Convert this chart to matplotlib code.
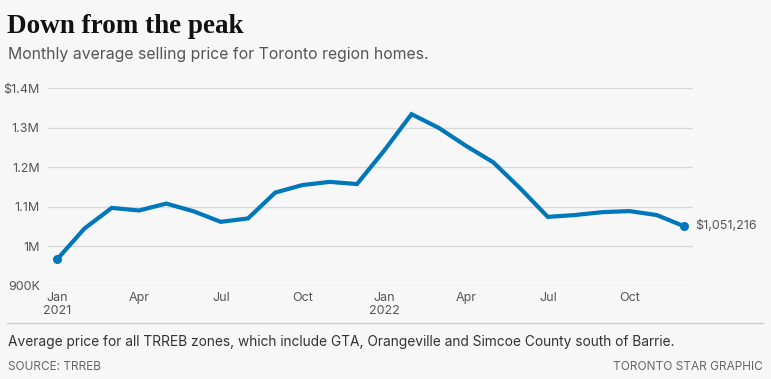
import matplotlib
matplotlib.use('Agg')
import matplotlib.pyplot as plt

plt.rcParams['font.family'] = ['Inter', 'DejaVu Sans']

# Monthly average selling price, Jan 2021 - Dec 2022
months = ['Jan\n2021', 'Feb', 'Mar', 'Apr', 'May', 'Jun', 'Jul', 'Aug', 'Sep', 'Oct', 'Nov', 'Dec',
          'Jan\n2022', 'Feb', 'Mar', 'Apr', 'May', 'Jun', 'Jul', 'Aug', 'Sep', 'Oct', 'Nov', 'Dec']
prices = [967885, 1045488, 1097565, 1090992, 1108453, 1088991, 1062256, 1070911, 1136280, 1155345,
          1163323, 1157837, 1242793, 1334544, 1299894, 1254436, 1212806, 1146254, 1074754, 1079500,
          1086762, 1089428, 1079395, 1051216]
y_ticks = [900000, 1000000, 1100000, 1200000, 1300000, 1400000]
y_labels = ['900K', '1M', '1.1M', '1.2M', '1.3M', '$1.4M']
x_ticks = [0, 3, 6, 9, 12, 15, 18, 21]

bg = '#f7f7f7'
blue = '#0077bb'

fig = plt.figure(figsize=(7.71, 3.79), dpi=100, facecolor=bg)
ax = fig.add_axes([48 / 771, 1 - 286 / 379, 645 / 771, (286 - 88.3) / 379])
ax.set_facecolor(bg)

x = list(range(len(prices)))
ax.plot(x, prices, color=blue, lw=3, solid_joinstyle='miter', solid_capstyle='butt', zorder=3)
ax.plot([x[0], x[-1]], [prices[0], prices[-1]], 'o', color=blue, ms=5.5, zorder=4)
ax.text(x[-1] + 0.4, prices[-1], f'${prices[-1]:,}', va='center', ha='left',
        fontsize=9, color='#555555')

ax.set_xlim(-0.34, 23.33)
ax.set_ylim(900000, 1400000)
ax.set_yticks(y_ticks)
ax.set_yticklabels(y_labels)
ax.set_xticks(x_ticks)
ax.set_xticklabels([months[i] for i in x_ticks], linespacing=1.2)
ax.grid(axis='y', color='#d9d9d9', lw=1)
ax.set_axisbelow(True)
for s in ax.spines.values():
    s.set_visible(False)
ax.tick_params(length=0, labelsize=9, labelcolor='#555555')
ax.tick_params(axis='y', pad=6)
ax.tick_params(axis='x', pad=4)

fig.text(7 / 771, 1 - 33 / 379, 'Down from the peak', fontsize=19.5, fontweight='bold',
         family='Liberation Serif', color='#111111', va='baseline')
fig.text(8 / 771, 1 - 59 / 379, 'Monthly average selling price for Toronto region homes.',
         fontsize=11.4, color='#555555', va='baseline')

fig.add_artist(plt.Line2D([7 / 771, 763 / 771], [1 - 323 / 379] * 2, color='#cccccc', lw=1))
fig.text(8 / 771, 1 - 346 / 379,
         'Average price for all TRREB zones, which include GTA, Orangeville and Simcoe County south of Barrie.',
         fontsize=9.9, color='#333333', va='baseline')
fig.text(8 / 771, 1 - 370 / 379, 'SOURCE: TRREB', fontsize=8.5, color='#666666', va='baseline')
fig.text(763 / 771, 1 - 370 / 379, 'TORONTO STAR GRAPHIC', fontsize=8.5, color='#666666',
         va='baseline', ha='right')

fig.savefig('out.png', dpi=100, facecolor=bg)
